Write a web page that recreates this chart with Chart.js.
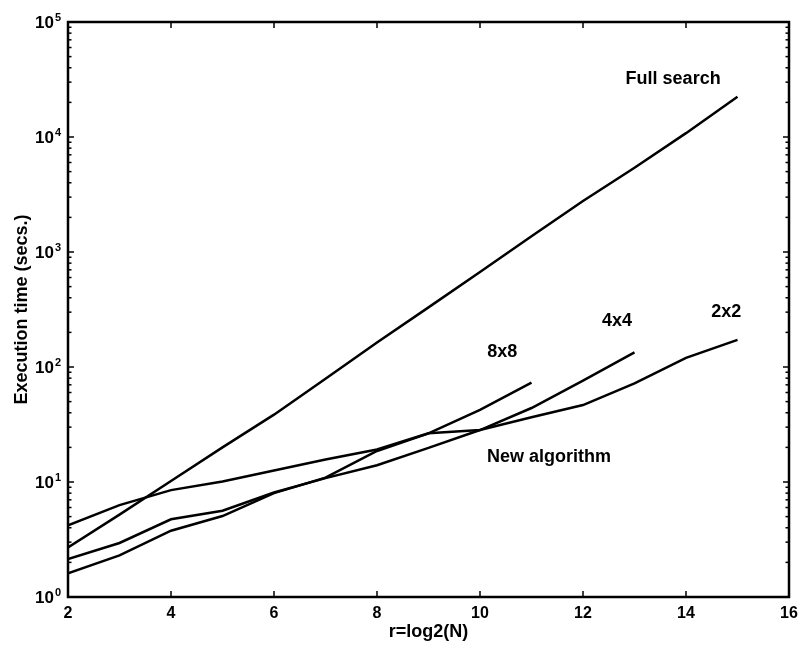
<!DOCTYPE html>
<html>
<head>
<meta charset="utf-8">
<script src="https://cdn.jsdelivr.net/npm/chart.js@4/dist/chart.umd.min.js"></script>
<style>
  html, body { margin: 0; padding: 0; background: #fff; }
  #wrap { width: 804px; height: 646px; }
</style>
</head>
<body>
<div id="wrap"><canvas id="myChart" width="804" height="646"></canvas></div>
<script>
// r = log2(N) values
var rValues = [2, 3, 4, 5, 6, 7, 8, 9, 10, 11, 12, 13, 14, 15];

// execution times in seconds
var fullSearch = [2.7, 5.2, 10.2, 20, 38.5, 79, 163, 330, 670, 1370, 2780, 5400, 10800, 22400];
var alg2x2 = [4.2, 6.3, 8.5, 10.1, 12.6, 15.7, 19.2, 26.5, 28.3, 36.5, 46.7, 72, 120, 172];
var alg4x4 = [2.14, 2.95, 4.74, 5.63, 8.1, 10.8, 14.0, 19.8, 28.3, 44, 76, 134];
var alg8x8 = [1.61, 2.3, 3.77, 5.06, 8.0, 10.9, 18.6, 26.5, 42.4, 73];

var xTicks = [2, 4, 6, 8, 10, 12, 14, 16];
var yDecades = [0, 1, 2, 3, 4, 5];

// labels written next to the curves (position in data units)
var curveLabels = [
  { text: 'Full search', x: 13.75, y: 31900 },
  { text: '8x8', x: 10.43, y: 135 },
  { text: '4x4', x: 12.66, y: 251 },
  { text: '2x2', x: 14.78, y: 301 },
  { text: 'New algorithm', x: 11.34, y: 16.5 }
];

function points(values) {
  var pts = [];
  for (var i = 0; i < values.length; i = i + 1) {
    pts.push({ x: rValues[i], y: values[i] });
  }
  return pts;
}

function lineSet(label, values) {
  return {
    label: label,
    data: points(values),
    borderColor: '#000',
    borderWidth: 2.5,
    pointRadius: 0,
    tension: 0,
    fill: false
  };
}

// draws the boxed axes, inward ticks and labels the way the original plot has them
var boxAxes = {
  id: 'boxAxes',
  afterDraw: function (chart) {
    var ctx = chart.ctx;
    var a = chart.chartArea;
    var xs = chart.scales.x;
    var ys = chart.scales.y;

    function seg(x1, y1, x2, y2) {
      ctx.beginPath();
      ctx.moveTo(x1, y1);
      ctx.lineTo(x2, y2);
      ctx.stroke();
    }

    ctx.save();
    ctx.strokeStyle = '#000';
    ctx.fillStyle = '#000';
    ctx.lineWidth = 2.5;
    ctx.strokeRect(a.left, a.top, a.right - a.left, a.bottom - a.top);

    // x ticks + labels
    ctx.lineWidth = 1.5;
    ctx.font = 'bold 16px "Liberation Sans", Arial, sans-serif';
    ctx.textAlign = 'center';
    ctx.textBaseline = 'top';
    xTicks.forEach(function (v) {
      var px = xs.getPixelForValue(v);
      seg(px, a.bottom, px, a.bottom - 6);
      seg(px, a.top, px, a.top + 6);
      ctx.fillText(String(v), px, a.bottom + 9);
    });

    // y ticks (major + minor) + labels
    yDecades.forEach(function (d) {
      var base = Math.pow(10, d);
      var py = ys.getPixelForValue(base);
      seg(a.left, py, a.left + 6, py);
      seg(a.right, py, a.right - 6, py);
      if (d < yDecades[yDecades.length - 1]) {
        for (var k = 2; k <= 9; k = k + 1) {
          var my = ys.getPixelForValue(k * base);
          seg(a.left, my, a.left + 3.5, my);
          seg(a.right, my, a.right - 3.5, my);
        }
      }
      ctx.font = 'bold 17px "Liberation Sans", Arial, sans-serif';
      ctx.textAlign = 'right';
      ctx.textBaseline = 'middle';
      ctx.fillText('10', a.left - 14, py + 1);
      ctx.font = 'bold 11px "Liberation Sans", Arial, sans-serif';
      ctx.textAlign = 'left';
      ctx.textBaseline = 'alphabetic';
      ctx.fillText(String(d), a.left - 13, py - 1);
    });

    // axis titles
    ctx.font = 'bold 18px "Liberation Sans", Arial, sans-serif';
    ctx.textAlign = 'center';
    ctx.textBaseline = 'middle';
    ctx.fillText('r=log2(N)', (a.left + a.right) / 2, a.bottom + 35);
    ctx.save();
    ctx.translate(22, (a.top + a.bottom) / 2);
    ctx.rotate(-Math.PI / 2);
    ctx.fillText('Execution time (secs.)', 0, 0);
    ctx.restore();

    // curve labels
    ctx.font = 'bold 18px "Liberation Sans", Arial, sans-serif';
    curveLabels.forEach(function (l) {
      ctx.fillText(l.text, xs.getPixelForValue(l.x), ys.getPixelForValue(l.y));
    });
    ctx.restore();
  }
};

new Chart(document.getElementById('myChart').getContext('2d'), {
  type: 'line',
  data: {
    datasets: [
      lineSet('Full search', fullSearch),
      lineSet('2x2', alg2x2),
      lineSet('4x4', alg4x4),
      lineSet('8x8', alg8x8)
    ]
  },
  options: {
    responsive: false,
    animation: false,
    layout: { padding: { left: 68, right: 15, top: 22, bottom: 49 } },
    plugins: {
      legend: { display: false },
      tooltip: { enabled: false }
    },
    scales: {
      x: { type: 'linear', min: 2, max: 16, display: false },
      y: { type: 'logarithmic', min: 1, max: 100000, display: false }
    }
  },
  plugins: [boxAxes]
});
</script>
</body>
</html>
